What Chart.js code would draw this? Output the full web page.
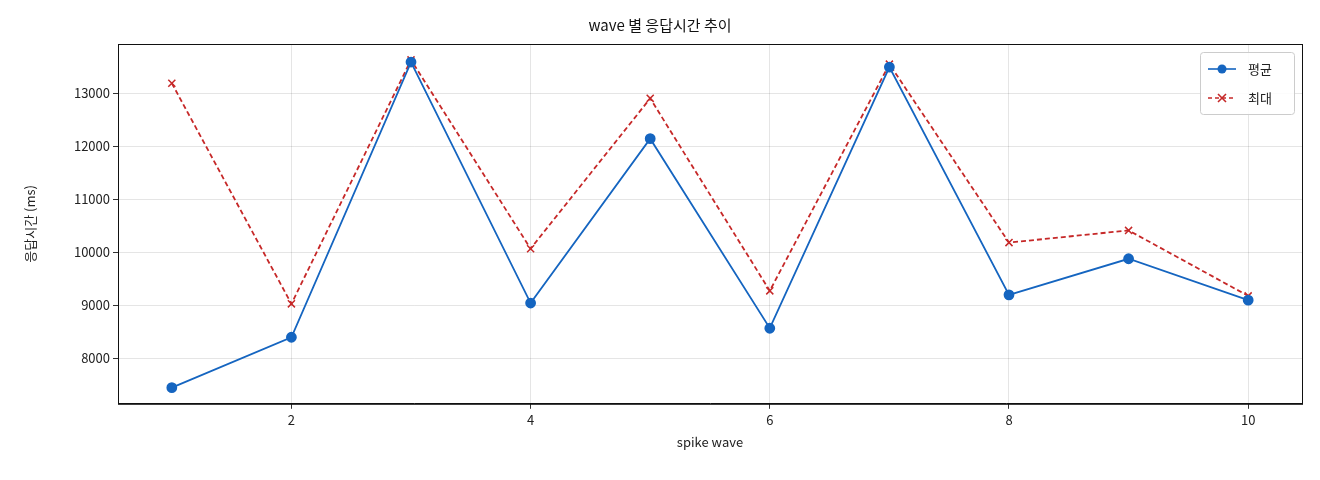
<!DOCTYPE html>
<html><head><meta charset="utf-8">
<script src="https://cdn.jsdelivr.net/npm/chart.js@4"></script>
<style>body{margin:0;background:#fff}#w{width:1320px;height:480px}</style>
</head><body><div id="w"><canvas id="c"></canvas></div>
<script>
const waves=[1,2,3,4,5,6,7,8,9,10];
const avgValues=[7450,8400,13590,9045,12145,8570,13495,9200,9880,9100];
const maxValues=[13190,9030,13630,10070,12905,9275,13550,10185,10415,9180];
const yTicks=[8000,9000,10000,11000,12000,13000];
const F='"Noto Sans CJK KR", "DejaVu Sans", sans-serif';
const legendPlugin={id:'lg',afterDraw(ch){const c=ch.ctx,a=ch.chartArea;
c.save();c.strokeStyle='#111';c.lineWidth=1;c.strokeRect(a.left+0.5,a.top+0.5,a.right-a.left,a.bottom-a.top);
const x=a.right-102,y=a.top+8,w=94,h=62;
c.fillStyle='rgba(255,255,255,0.85)';c.strokeStyle='#ccc';
c.beginPath();c.roundRect(x+0.5,y+0.5,w,h,3);c.fill();c.stroke();
const items=[['평균','#1565c0',[],'c'],['최대','#c62828',[4,3],'x']];
items.forEach((it,i)=>{const yy=y+17+i*29;c.strokeStyle=it[1];c.lineWidth=1.6;c.setLineDash(it[2]);
c.beginPath();c.moveTo(x+8,yy);c.lineTo(x+36,yy);c.stroke();c.setLineDash([]);
if(it[3]=='c'){c.fillStyle=it[1];c.beginPath();c.arc(x+22,yy,4.5,0,7);c.fill();}
else{c.beginPath();c.moveTo(x+18,yy-4);c.lineTo(x+26,yy+4);c.moveTo(x+26,yy-4);c.lineTo(x+18,yy+4);c.stroke();}
c.fillStyle='#222';c.font='13px '+F;c.textBaseline='middle';c.fillText(it[0],x+48,yy);});
c.restore();}};
new Chart(document.getElementById('c'),{type:'line',
data:{datasets:[
{label:'평균',data:waves.map((x,i)=>({x,y:avgValues[i]})),borderColor:'#1565c0',backgroundColor:'#1565c0',borderWidth:1.8,pointRadius:4.5,pointHoverRadius:4.5,pointStyle:'circle'},
{label:'최대',data:waves.map((x,i)=>({x,y:maxValues[i]})),borderColor:'#c62828',backgroundColor:'#c62828',borderWidth:1.8,borderDash:[5,3],pointRadius:5,pointStyle:'crossRot',pointBorderWidth:1.5}
]},
options:{responsive:true,maintainAspectRatio:false,animation:false,
layout:{padding:{left:18,right:18,top:0,bottom:26}},
plugins:{legend:{display:false},tooltip:{enabled:false},
title:{display:true,text:'wave 별 응답시간 추이',color:'#111',font:{family:F,size:15,weight:'normal'},padding:{top:16,bottom:10}}},
scales:{
x:{type:'linear',min:0.55,max:10.45,afterBuildTicks(s){s.ticks=[2,4,6,8,10].map(v=>({value:v}));},
grid:{color:'rgba(0,0,0,0.1)',tickLength:5,tickColor:'#333'},border:{color:'#111'},
ticks:{color:'#222',font:{family:F,size:13}},
title:{display:true,text:'spike wave',color:'#222',font:{family:F,size:13}}},
y:{min:7145,max:13930,afterBuildTicks(s){s.ticks=yTicks.map(v=>({value:v}));},
afterFit(s){s.width=100;},
grid:{color:'rgba(0,0,0,0.1)',tickLength:5,tickColor:'#333'},border:{color:'#111'},
ticks:{color:'#222',font:{family:F,size:13},callback:v=>String(v)},
title:{display:true,text:'응답시간 (ms)',color:'#222',font:{family:F,size:13}}}}},
plugins:[legendPlugin]});
</script></body></html>
